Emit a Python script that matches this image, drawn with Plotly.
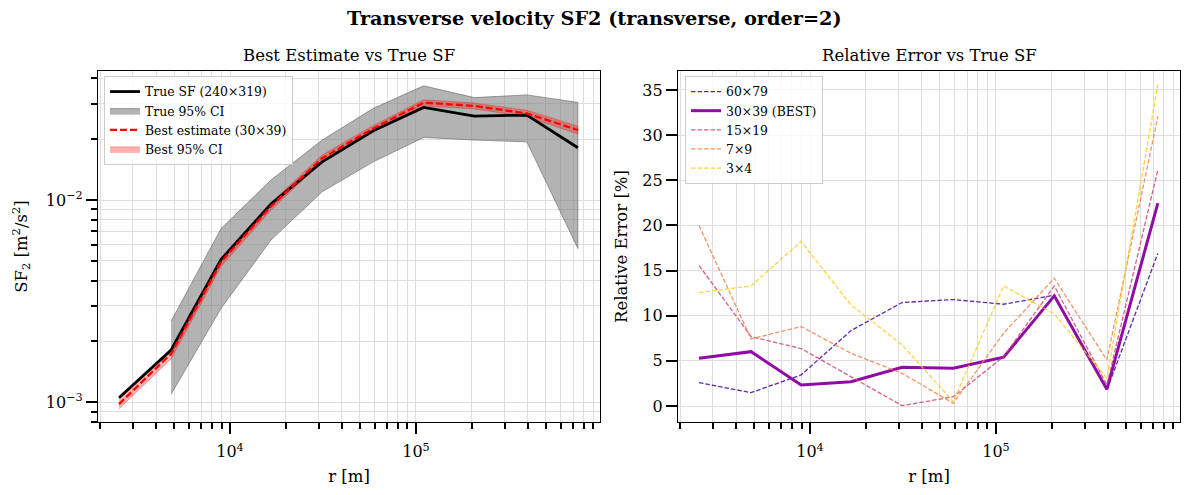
import plotly.graph_objects as go

# ---------------- data ----------------
r = [2530, 4820, 8960, 16600, 31300, 59000, 110000, 206000, 395000, 743000]

true_sf = [1.055e-3, 1.815e-3, 5.09e-3, 9.55e-3, 0.01545, 0.0220, 0.0287, 0.0260, 0.0263, 0.01815]
true_lo = [None, 1.096e-3, 2.92e-3, 6.34e-3, 0.01099, 0.01545, 0.0204, 0.0198, 0.0194, 5.77e-3]
true_hi = [None, 2.52e-3, 7.24e-3, 0.01256, 0.01979, 0.0284, 0.0367, 0.0321, 0.0331, 0.0304]

best_sf = [0.98e-3, 1.74e-3, 4.95e-3, 9.3e-3, 0.0161, 0.0226, 0.0303, 0.0292, 0.0268, 0.0222]
best_lo = [0.93e-3, 1.64e-3, 4.70e-3, 8.9e-3, 0.0155, 0.0218, 0.0292, 0.0282, 0.0258, 0.0212]
best_hi = [1.04e-3, 1.84e-3, 5.20e-3, 9.7e-3, 0.0167, 0.0234, 0.0313, 0.0302, 0.0278, 0.0232]

err_labels = ["60×79", "30×39 (BEST)", "15×19", "7×9", "3×4"]
err_60x79 = [2.59, 1.48, 3.44, 8.35, 11.46, 11.79, 11.27, 12.27, 1.77, 16.9]
err_30x39 = [5.28, 6.02, 2.33, 2.70, 4.29, 4.18, 5.40, 12.2, 1.85, 22.47]
err_15x19 = [15.56, 7.69, 6.36, 3.25, 0.04, 1.03, 5.47, 13.3, 2.33, 26.16]
err_7x9 = [19.99, 7.43, 8.8, 5.84, 3.62, 0.3, 8.06, 14.15, 5.1, 32.08]
err_3x4 = [12.56, 13.3, 18.22, 11.2, 6.76, 0.48, 13.3, 10.2, 3.07, 35.6]
err_series = [err_60x79, err_30x39, err_15x19, err_7x9, err_3x4]
err_colors = ["#41049d", "#8f0da4", "#cc4778", "#f1844b", "#fcce25"]

# ---------------- figure ----------------
FONT = "DejaVu Serif"
W, H = 1189, 495
fig = go.Figure()

def band(xs, lo, hi):
    pts = [(x, l, h) for x, l, h in zip(xs, lo, hi) if l is not None and h is not None]
    bx = [p[0] for p in pts] + [p[0] for p in pts][::-1]
    by = [p[2] for p in pts] + [p[1] for p in pts][::-1]
    return bx, by

bx, by = band(r, true_lo, true_hi)
fig.add_trace(go.Scatter(x=bx, y=by, fill="toself", mode="lines",
                         fillcolor="rgba(128,128,128,0.6)",
                         line=dict(color="rgba(100,100,100,0.6)", width=1),
                         name="True 95% CI", legend="legend", legendrank=2,
                         xaxis="x", yaxis="y"))
bx2, by2 = band(r, best_lo, best_hi)
fig.add_trace(go.Scatter(x=bx2, y=by2, fill="toself", mode="lines",
                         fillcolor="rgba(255,0,0,0.3)",
                         line=dict(color="rgba(255,0,0,0.3)", width=1),
                         name="Best 95% CI", legend="legend", legendrank=4,
                         xaxis="x", yaxis="y"))
fig.add_trace(go.Scatter(x=r, y=true_sf, mode="lines",
                         line=dict(color="black", width=2.8),
                         name="True SF (240×319)", legend="legend", legendrank=1,
                         xaxis="x", yaxis="y"))
fig.add_trace(go.Scatter(x=r, y=best_sf, mode="lines",
                         line=dict(color="red", width=2.3, dash="7px,3px"),
                         name="Best estimate (30×39)", legend="legend", legendrank=3,
                         xaxis="x", yaxis="y"))

for i, (lab, ser, col) in enumerate(zip(err_labels, err_series, err_colors)):
    best = "BEST" in lab
    fig.add_trace(go.Scatter(x=r, y=ser, mode="lines",
                             line=dict(color=col, width=3 if best else 1.3,
                                       dash="solid" if best else "4.5px,2px"),
                             opacity=1.0 if best else 0.85,
                             name=lab, legend="legend2", legendrank=i + 1,
                             xaxis="x2", yaxis="y2"))

# ---------------- layout ----------------
xl0, xl1 = 98 / W, 600 / W
xr0, xr1 = 678 / W, 1180 / W
y0, y1 = 1 - 422 / H, 1 - 71 / H

minor_x = [k * 10 ** e for e in range(3, 6) for k in range(2, 10)] + [1e6]
minor_y = [k * 10 ** e for e in range(-4, -1) for k in range(2, 10)]

grid = "#dedede"
tickfont = dict(family=FONT, size=16, color="black")
labfont = dict(family=FONT, size=16.5, color="black")
common = dict(showline=True, linecolor="black", linewidth=1.3, mirror=True,
              ticks="outside", ticklen=11, tickwidth=2, tickcolor="black",
              showgrid=True, gridcolor=grid, gridwidth=1, zeroline=False,
              tickfont=tickfont)

def xaxis(domain, anchor):
    return dict(common, type="log", domain=domain, anchor=anchor,
                range=[3.29, 5.99],
                tickmode="array", tickvals=[1e4, 1e5],
                ticktext=["10<sup>4</sup>", "10<sup>5</sup>"],
                ticklabelstandoff=4,
                minor=dict(tickmode="array", tickvals=minor_x, ticks="outside",
                           ticklen=6, tickwidth=1.6, tickcolor="black",
                           showgrid=True, gridcolor=grid, gridwidth=1),
                title=dict(text="r [m]", font=labfont, standoff=10))

fig.update_layout(
    width=W, height=H,
    margin=dict(l=0, r=0, t=0, b=0),
    paper_bgcolor="white", plot_bgcolor="white",
    font=dict(family=FONT, color="black"),
    xaxis=xaxis([xl0, xl1], "y"),
    xaxis2=xaxis([xr0, xr1], "y2"),
    yaxis=dict(common, type="log", domain=[y0, y1], anchor="x",
               range=[-3.097, -1.362],
               tickmode="array", tickvals=[1e-3, 1e-2],
               ticktext=["10<sup>−3</sup>", "10<sup>−2</sup>"],
               minor=dict(tickmode="array", tickvals=minor_y, ticks="outside",
                          ticklen=6, tickwidth=1.6, tickcolor="black",
                          showgrid=True, gridcolor=grid, gridwidth=1),
               title=dict(text="SF<sub>2</sub> [m<sup>2</sup>/s<sup>2</sup>]",
                          font=labfont, standoff=14)),
    yaxis2=dict(common, type="linear", domain=[y0, y1], anchor="x2",
                range=[-1.77, 37.1], tickmode="array",
                tickvals=[0, 5, 10, 15, 20, 25, 30, 35],
                title=dict(text="Relative Error [%]", font=labfont, standoff=10)),
    legend=dict(x=104 / W, y=1 - 76 / H, xanchor="left", yanchor="top",
                bgcolor="rgba(255,255,255,0.8)", bordercolor="#cccccc", borderwidth=1,
                font=dict(family=FONT, size=12.4, color="black"),
                itemwidth=30, tracegroupgap=0),
    legend2=dict(x=685 / W, y=1 - 76 / H, xanchor="left", yanchor="top",
                 bgcolor="rgba(255,255,255,0.8)", bordercolor="#cccccc", borderwidth=1,
                 font=dict(family=FONT, size=12.4, color="black"),
                 itemwidth=30, tracegroupgap=0),
    showlegend=True,
    annotations=[
        dict(text="<b>Transverse velocity SF2 (transverse, order=2)</b>",
             x=0.5, y=1 - 18 / H, xref="paper", yref="paper", showarrow=False,
             xanchor="center", yanchor="middle",
             font=dict(family=FONT, size=19.3, color="black")),
        dict(text="Best Estimate vs True SF", x=(xl0 + xl1) / 2, y=1 - 55 / H,
             xref="paper", yref="paper", showarrow=False, xanchor="center",
             yanchor="middle", font=dict(family=FONT, size=16.5, color="black")),
        dict(text="Relative Error vs True SF", x=(xr0 + xr1) / 2, y=1 - 55 / H,
             xref="paper", yref="paper", showarrow=False, xanchor="center",
             yanchor="middle", font=dict(family=FONT, size=16.5, color="black")),
    ],
)

fig.write_html("out.html")
